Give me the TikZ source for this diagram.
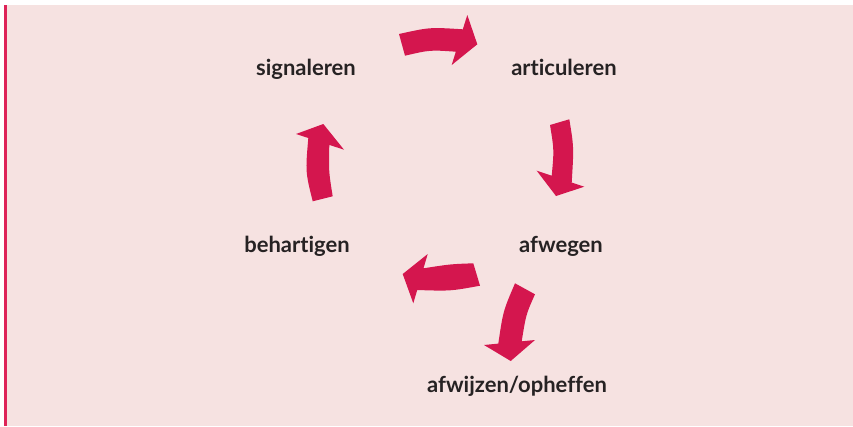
\documentclass[tikz,border=0pt]{standalone}
\usepackage{fontspec}
\setmainfont{Lato}[Ligatures={NoCommon}]
\definecolor{bgpink}{RGB}{246,226,225}
\definecolor{crim}{RGB}{212,22,78}
\definecolor{barred}{RGB}{222,35,88}
\definecolor{txt}{RGB}{38,34,35}
\tikzset{
  lbl/.style={font=\fontsize{22}{25}\selectfont\bfseries, text=txt, inner sep=0pt, anchor=base},
  arr/.style={fill=crim, draw=none}
}
\begin{document}
\begin{tikzpicture}[x=1pt,y=-1pt]
\useasboundingbox (0,0) rectangle (853,426);
\fill[white] (0,0) rectangle (853,426);
\fill[bgpink] (4,5) rectangle (853,426);
\fill[barred] (4,5) rectangle (7,426);
% labels
\node[lbl] (sig) at (306,75) {signaleren};
\node[lbl] (art) at (564,75) {articuleren};
\node[lbl] (beh) at (297,252) {behartigen};
\node[lbl] (afw) at (561,252) {afwegen};
\node[lbl] (afo) at (517,392) {afwijzen/opheffen};
% arrow 1: signaleren -> articuleren
\path[arr] (399,34) .. controls (429.7,27.2) .. (462.8,29.3) -- (467.3,15) -- (477.3,44.3) -- (451.7,65) -- (455.8,51.7) .. controls (429.9,49.9) .. (405,55.7) -- cycle;
% arrow 2: articuleren -> afwegen
\path[arr] (550,125) .. controls (554.1,149.9) .. (551.7,175.7) -- (536.7,170.7) -- (556,196) -- (584.3,186.7) -- (571.7,182.5) .. controls (573.9,147.1) .. (569.3,119.3) -- cycle;
% arrow 3: afwegen -> behartigen
\path[arr] (473.3,263.3) .. controls (450.5,264.1) .. (423.5,268.3) -- (427.7,254) -- (402.7,274) -- (413.3,303.3) -- (417.2,290) .. controls (450.5,291.1) .. (480,285.7) -- cycle;
% arrow 4: afwegen -> afwijzen/opheffen
\path[arr] (515,283.3) .. controls (503.1,311.1) .. (498.3,343.6) -- (484,345) -- (510.7,361) -- (535,340) -- (521.7,341.3) .. controls (526.1,314.1) .. (535,294.3) -- cycle;
% arrow 5: behartigen -> signaleren
\path[arr] (312.7,201.3) .. controls (305.4,171.9) .. (308.3,138) -- (296,134) -- (323.3,124) -- (344,149.7) -- (329.3,144.9) .. controls (328.7,171.5) .. (332.7,196.3) -- cycle;
\end{tikzpicture}
\end{document}
